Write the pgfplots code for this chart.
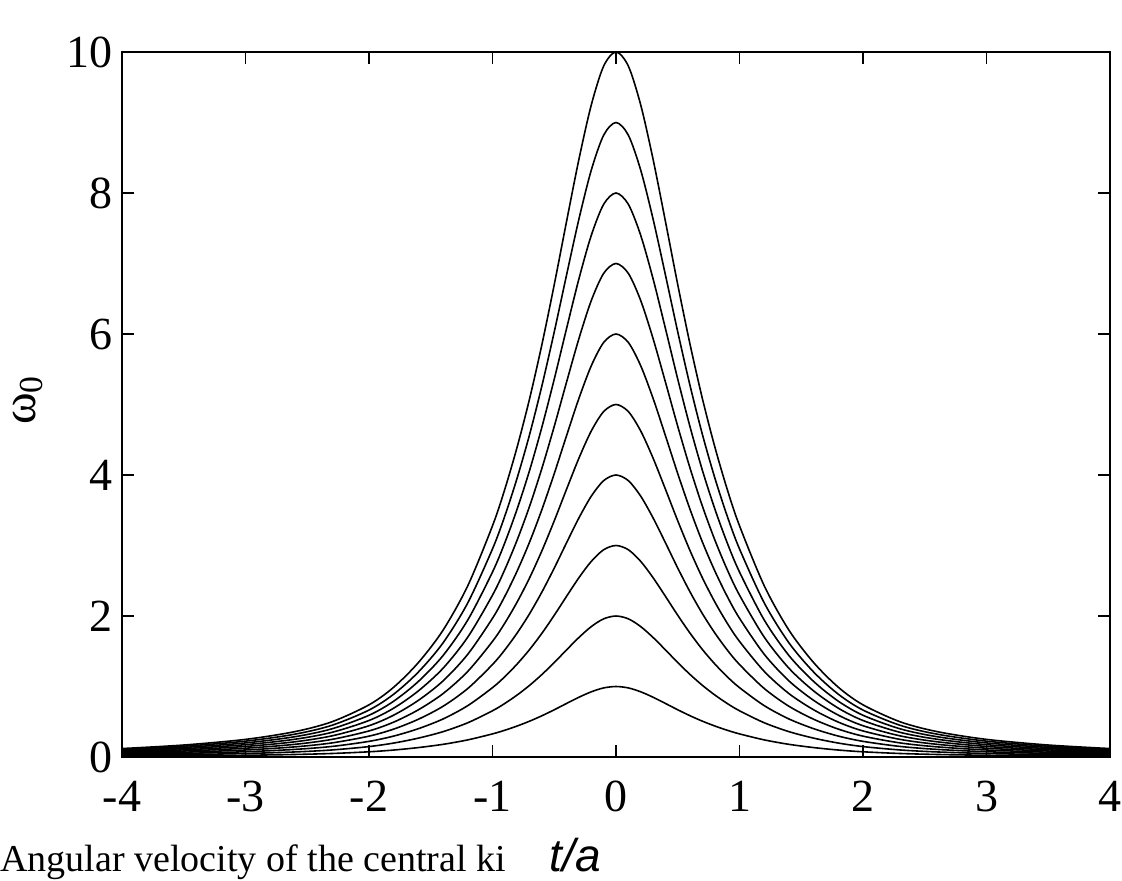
\documentclass[border=0pt]{standalone}
\usepackage{fontspec}
\setmainfont{Liberation Serif}
\newfontfamily\labelsans{Liberation Sans}
\usepackage{pgfplots}
\usepackage{pgfplotstable}
\pgfplotsset{compat=1.18}

% omega_0 curves, peak values 1..10
\pgfplotstableread{
x y1 y2 y3 y4 y5 y6 y7 y8 y9 y10
-4.0 0.012 0.024 0.036 0.048 0.060 0.072 0.084 0.096 0.108 0.120
-3.5 0.017 0.034 0.051 0.068 0.085 0.102 0.119 0.136 0.153 0.170
-3.0 0.025 0.050 0.075 0.100 0.125 0.150 0.175 0.200 0.225 0.250
-2.6 0.036 0.072 0.108 0.144 0.180 0.216 0.252 0.288 0.324 0.360
-2.3 0.050 0.100 0.150 0.200 0.250 0.300 0.350 0.400 0.450 0.500
-2.0 0.074 0.148 0.222 0.296 0.370 0.444 0.518 0.592 0.666 0.740
-1.8 0.099 0.198 0.297 0.396 0.495 0.594 0.693 0.792 0.891 0.990
-1.6 0.134 0.268 0.402 0.536 0.670 0.804 0.938 1.072 1.206 1.340
-1.4 0.180 0.360 0.540 0.720 0.900 1.080 1.260 1.440 1.620 1.800
-1.2 0.243 0.486 0.729 0.972 1.215 1.458 1.701 1.944 2.187 2.430
-1.0 0.328 0.656 0.984 1.312 1.640 1.968 2.296 2.624 2.952 3.280
-0.9 0.380 0.760 1.140 1.520 1.900 2.280 2.660 3.040 3.420 3.800
-0.8 0.440 0.880 1.320 1.760 2.200 2.640 3.080 3.520 3.960 4.400
-0.7 0.508 1.016 1.524 2.032 2.540 3.048 3.556 4.064 4.572 5.080
-0.6 0.585 1.170 1.755 2.340 2.925 3.510 4.095 4.680 5.265 5.850
-0.5 0.670 1.340 2.010 2.680 3.350 4.020 4.690 5.360 6.030 6.700
-0.4 0.760 1.520 2.280 3.040 3.800 4.560 5.320 6.080 6.840 7.600
-0.3 0.848 1.696 2.544 3.392 4.240 5.088 5.936 6.784 7.632 8.480
-0.2 0.925 1.850 2.775 3.700 4.625 5.550 6.475 7.400 8.325 9.250
-0.1 0.980 1.960 2.940 3.920 4.900 5.880 6.860 7.840 8.820 9.800
0.0 1.000 2.000 3.000 4.000 5.000 6.000 7.000 8.000 9.000 10.000
0.1 0.980 1.960 2.940 3.920 4.900 5.880 6.860 7.840 8.820 9.800
0.2 0.925 1.850 2.775 3.700 4.625 5.550 6.475 7.400 8.325 9.250
0.3 0.848 1.696 2.544 3.392 4.240 5.088 5.936 6.784 7.632 8.480
0.4 0.760 1.520 2.280 3.040 3.800 4.560 5.320 6.080 6.840 7.600
0.5 0.670 1.340 2.010 2.680 3.350 4.020 4.690 5.360 6.030 6.700
0.6 0.585 1.170 1.755 2.340 2.925 3.510 4.095 4.680 5.265 5.850
0.7 0.508 1.016 1.524 2.032 2.540 3.048 3.556 4.064 4.572 5.080
0.8 0.440 0.880 1.320 1.760 2.200 2.640 3.080 3.520 3.960 4.400
0.9 0.380 0.760 1.140 1.520 1.900 2.280 2.660 3.040 3.420 3.800
1.0 0.328 0.656 0.984 1.312 1.640 1.968 2.296 2.624 2.952 3.280
1.2 0.243 0.486 0.729 0.972 1.215 1.458 1.701 1.944 2.187 2.430
1.4 0.180 0.360 0.540 0.720 0.900 1.080 1.260 1.440 1.620 1.800
1.6 0.134 0.268 0.402 0.536 0.670 0.804 0.938 1.072 1.206 1.340
1.8 0.099 0.198 0.297 0.396 0.495 0.594 0.693 0.792 0.891 0.990
2.0 0.074 0.148 0.222 0.296 0.370 0.444 0.518 0.592 0.666 0.740
2.3 0.050 0.100 0.150 0.200 0.250 0.300 0.350 0.400 0.450 0.500
2.6 0.036 0.072 0.108 0.144 0.180 0.216 0.252 0.288 0.324 0.360
3.0 0.025 0.050 0.075 0.100 0.125 0.150 0.175 0.200 0.225 0.250
3.5 0.017 0.034 0.051 0.068 0.085 0.102 0.119 0.136 0.153 0.170
4.0 0.012 0.024 0.036 0.048 0.060 0.072 0.084 0.096 0.108 0.120
}\omegadata

\begin{document}
\begin{tikzpicture}
\begin{axis}[
    scale only axis, width=494pt, height=352.5pt,
    xmin=-4, xmax=4, ymin=0, ymax=10,
    xtick={-4,-3,...,4}, ytick={0,2,...,10},
    major tick length=6pt,
    tick style={black, line width=0.8pt},
    axis line style={line width=0.9pt},
    tick label style={font=\fontsize{23}{27}\selectfont},
    yticklabel style={xshift=-1pt},
    xticklabel style={yshift=-8.5pt},
    /pgf/number format/assume math mode=true,
    xlabel={{\labelsans\itshape t/a}},
    ylabel={ω\textsubscript{0}},
    every axis x label/.style={at={(axis description cs:0.4585,-0.139)}, anchor=center, font=\fontsize{23}{26}\selectfont},
    every axis y label/.style={at={(axis description cs:-0.095,0.506)}, rotate=90, anchor=center, font=\fontsize{24}{28}\selectfont},
]
\pgfplotsinvokeforeach{1,...,10}{
  \addplot[black, line width=0.8pt, smooth] table[x=x, y=y#1] {\omegadata};
}
\end{axis}
\node[anchor=base west, inner sep=0pt, font=\fontsize{19}{21}\selectfont] at (-61pt,-57pt) {Angular velocity of the central ki};
\pgfresetboundingbox
\useasboundingbox (-61pt,-61.5pt) rectangle (500pt,378.5pt);
\end{tikzpicture}
\end{document}
